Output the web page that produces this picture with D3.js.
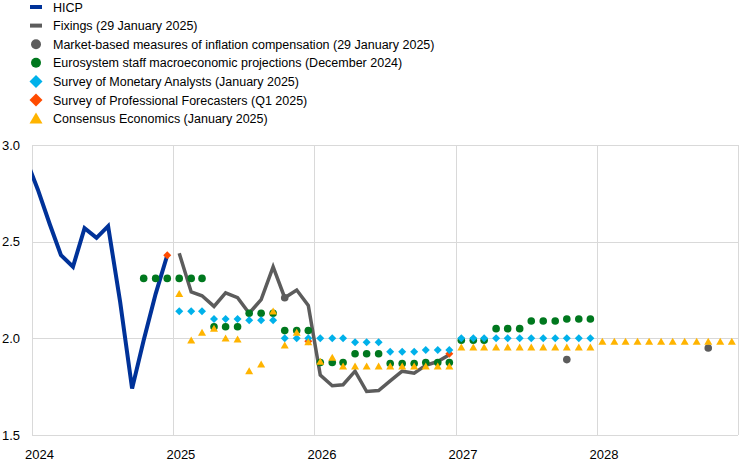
<!DOCTYPE html>
<html>
<head>
<meta charset="utf-8">
<script src="https://cdn.jsdelivr.net/npm/d3@7"></script>
<style>
  html, body { margin: 0; padding: 0; background: #fff; }
  svg { display: block; font-family: "Liberation Sans", Arial, sans-serif; }
</style>
</head>
<body>
<svg id="chart" width="745" height="462"></svg>
<script>
// ---------- DATA ----------
const yTicks = [1.5, 2.0, 2.5, 3.0];
const yearTicks = ["2024", "2025", "2026", "2027", "2028"];

const hicpMonths = ["2023-12","2024-01","2024-02","2024-03","2024-04","2024-05","2024-06","2024-07","2024-08","2024-09","2024-10","2024-11","2024-12"];
const hicpValues = [2.93, 2.77, 2.59, 2.43, 2.37, 2.57, 2.52, 2.58, 2.19, 1.74, 1.99, 2.23, 2.43];

const fixingMonths = ["2025-01","2025-02","2025-03","2025-04","2025-05","2025-06","2025-07","2025-08","2025-09","2025-10","2025-11","2025-12",
                      "2026-01","2026-02","2026-03","2026-04","2026-05","2026-06","2026-07","2026-08","2026-09","2026-10","2026-11","2026-12"];
const fixingValues = [2.44, 2.24, 2.22, 2.165, 2.235, 2.21, 2.13, 2.20, 2.37, 2.21, 2.25, 2.17,
                      1.81, 1.755, 1.76, 1.83, 1.725, 1.73, 1.78, 1.83, 1.82, 1.86, 1.88, 1.915];

const marketMonths = ["2025-10", "2027-10", "2028-10"];
const marketValues = [2.21, 1.89, 1.95];

const esMonths = ["2024-10","2024-11","2024-12",
  "2025-01","2025-02","2025-03","2025-04","2025-05","2025-06","2025-07","2025-08","2025-09","2025-10","2025-11","2025-12",
  "2026-01","2026-02","2026-03","2026-04","2026-05","2026-06","2026-07","2026-08","2026-09","2026-10","2026-11","2026-12",
  "2027-01","2027-02","2027-03","2027-04","2027-05","2027-06","2027-07","2027-08","2027-09","2027-10","2027-11","2027-12"];
const esValues = [2.31, 2.31, 2.31,
  2.31, 2.31, 2.31, 2.06, 2.06, 2.06, 2.13, 2.13, 2.13, 2.04, 2.04, 2.04,
  1.875, 1.875, 1.875, 1.92, 1.92, 1.92, 1.87, 1.87, 1.87, 1.875, 1.875, 1.875,
  1.99, 1.99, 1.99, 2.05, 2.05, 2.05, 2.09, 2.09, 2.09, 2.10, 2.10, 2.10];

const smaMonths = ["2025-01","2025-02","2025-03","2025-04","2025-05","2025-06","2025-07","2025-08","2025-09","2025-10","2025-11","2025-12",
  "2026-01","2026-02","2026-03","2026-04","2026-05","2026-06","2026-07","2026-08","2026-09","2026-10","2026-11","2026-12",
  "2027-01","2027-02","2027-03","2027-04","2027-05","2027-06","2027-07","2027-08","2027-09","2027-10","2027-11","2027-12"];
const smaValues = [2.14, 2.14, 2.14, 2.10, 2.10, 2.10, 2.093, 2.093, 2.093, 2.00, 2.00, 2.00,
  2.00, 2.00, 2.00, 1.98, 1.98, 1.98, 1.93, 1.93, 1.93, 1.94, 1.94, 1.94,
  2.00, 2.00, 2.00, 2.00, 2.00, 2.00, 2.00, 2.00, 2.00, 2.00, 2.00, 2.00];

const spfMonths = ["2024-12", "2025-12", "2026-12"];
const spfValues = [2.43, 1.985, 1.92];

const ceMonths = ["2025-01","2025-02","2025-03","2025-04","2025-05","2025-06","2025-07","2025-08","2025-09","2025-10","2025-11","2025-12",
  "2026-01","2026-02","2026-03","2026-04","2026-05","2026-06","2026-07","2026-08","2026-09","2026-10","2026-11","2026-12",
  "2027-01","2027-02","2027-03","2027-04","2027-05","2027-06","2027-07","2027-08","2027-09","2027-10","2027-11","2027-12",
  "2028-01","2028-02","2028-03","2028-04","2028-05","2028-06","2028-07","2028-08","2028-09","2028-10","2028-11","2028-12"];
const ceValues = [2.23, 1.99, 2.03, 2.05, 2.00, 1.995, 1.83, 1.866, 2.14, 1.964, 2.03, 1.98,
  1.88, 1.90, 1.855, 1.855, 1.855, 1.855, 1.855, 1.855, 1.855, 1.855, 1.855, 1.855,
  1.953, 1.953, 1.953, 1.953, 1.953, 1.953, 1.953, 1.953, 1.953, 1.953, 1.953, 1.953,
  1.983, 1.983, 1.983, 1.983, 1.983, 1.983, 1.983, 1.983, 1.983, 1.983, 1.983, 1.983];

const legendLabels = [
  "HICP",
  "Fixings (29 January 2025)",
  "Market-based measures of inflation compensation (29 January 2025)",
  "Eurosystem staff macroeconomic projections (December 2024)",
  "Survey of Monetary Analysts (January 2025)",
  "Survey of Professional Forecasters (Q1 2025)",
  "Consensus Economics (January 2025)"
];

// ---------- STYLE ----------
const C = {
  hicp: "#003299", fix: "#5c5c5c", market: "#5c5c5c", es: "#00781e",
  sma: "#00b1ea", spf: "#ff4b00", ce: "#ffb400", grid: "#d9d9d9", text: "#000"
};

const svg = d3.select("#chart");
const plot = { left: 32, right: 738, top: 145, bottom: 435 };

const midMonth = s => { const [y, m] = s.split("-").map(Number); return new Date(y, m - 1, 16); };
const zip = (ms, vs) => ms.map((m, i) => ({ d: midMonth(m), v: vs[i] }));

const x = d3.scaleTime().domain([new Date(2024, 0, 1), new Date(2029, 0, 1)]).range([plot.left, plot.right]);
const y = d3.scaleLinear().domain([1.5, 3.0]).range([plot.bottom, plot.top]);

// clip
svg.append("defs").append("clipPath").attr("id", "clip")
  .append("rect").attr("x", plot.left).attr("y", plot.top - 10)
  .attr("width", plot.right - plot.left).attr("height", plot.bottom - plot.top + 20);

// gridlines
const g = svg.append("g");
g.selectAll("line.h").data(yTicks).join("line")
  .attr("x1", plot.left).attr("x2", plot.right)
  .attr("y1", d => Math.round(y(d)) + 0.5).attr("y2", d => Math.round(y(d)) + 0.5)
  .attr("stroke", C.grid).attr("stroke-width", 1);
const yearDates = d3.range(2024, 2030).map(yr => new Date(yr, 0, 1));
g.selectAll("line.v").data(yearDates).join("line")
  .attr("x1", d => Math.round(x(d)) + 0.5).attr("x2", d => Math.round(x(d)) + 0.5)
  .attr("y1", plot.top).attr("y2", plot.bottom)
  .attr("stroke", C.grid).attr("stroke-width", 1);

// axis labels
svg.append("g").selectAll("text").data(yTicks).join("text")
  .attr("x", 20).attr("y", d => y(d)).attr("dy", "0.36em")
  .attr("text-anchor", "end").attr("font-size", 13).attr("fill", C.text)
  .text(d => d.toFixed(1));
svg.append("g").selectAll("text").data(yearTicks).join("text")
  .attr("x", d => x(new Date(+d, 0, 1)) - 7).attr("y", 459)
  .attr("text-anchor", "start").attr("font-size", 13).attr("fill", C.text)
  .text(d => d);

const body = svg.append("g").attr("clip-path", "url(#clip)");
const line = d3.line().x(d => x(d.d)).y(d => y(d.v));

body.append("path").datum(zip(hicpMonths, hicpValues))
  .attr("d", line).attr("fill", "none").attr("stroke", C.hicp)
  .attr("stroke-width", 4).attr("stroke-linejoin", "miter");
body.append("path").datum(zip(fixingMonths, fixingValues))
  .attr("d", line).attr("fill", "none").attr("stroke", C.fix)
  .attr("stroke-width", 3.5).attr("stroke-linejoin", "miter");

const circ = d3.symbol().type(d3.symbolCircle);
const diam = d3.symbol().type(d3.symbolSquare);
const tri = d3.symbol().type(d3.symbolTriangle);

function dots(data, color, r) {
  body.append("g").selectAll("circle").data(data).join("circle")
    .attr("cx", d => x(d.d)).attr("cy", d => y(d.v)).attr("r", r).attr("fill", color);
}
function diamonds(data, color, half) {
  body.append("g").selectAll("path").data(data).join("path")
    .attr("d", d => { const cx = x(d.d), cy = y(d.v);
      return `M${cx},${cy - half}L${cx + half},${cy}L${cx},${cy + half}L${cx - half},${cy}Z`; })
    .attr("fill", color);
}
function triangles(data, color, w, h) {
  body.append("g").selectAll("path").data(data).join("path")
    .attr("d", d => { const cx = x(d.d), cy = y(d.v);
      return `M${cx},${cy - h * 0.55}L${cx + w / 2},${cy + h * 0.45}L${cx - w / 2},${cy + h * 0.45}Z`; })
    .attr("fill", color);
}

dots(zip(marketMonths, marketValues), C.market, 3.8);
dots(zip(esMonths, esValues), C.es, 3.8);
diamonds(zip(spfMonths, spfValues), C.spf, 4);
diamonds(zip(smaMonths, smaValues), C.sma, 4);
triangles(zip(ceMonths, ceValues), C.ce, 8, 7);

// legend
const leg = svg.append("g");
const ly0 = 7, lstep = 18.6, lx = 36, tx = 53;
legendLabels.forEach((lab, i) => {
  const cy = ly0 + i * lstep;
  if (i === 0 || i === 1) {
    leg.append("rect").attr("x", lx - 6).attr("y", cy - 2).attr("width", 12).attr("height", 4)
      .attr("fill", i === 0 ? C.hicp : C.fix);
  } else if (i === 2 || i === 3) {
    leg.append("circle").attr("cx", lx).attr("cy", cy).attr("r", 5).attr("fill", i === 2 ? C.market : C.es);
  } else if (i === 4 || i === 5) {
    const h = 6.5;
    leg.append("path").attr("d", `M${lx},${cy - h}L${lx + h},${cy}L${lx},${cy + h}L${lx - h},${cy}Z`)
      .attr("fill", i === 4 ? C.sma : C.spf);
  } else {
    leg.append("path").attr("d", `M${lx},${cy - 6}L${lx + 6.5},${cy + 5}L${lx - 6.5},${cy + 5}Z`).attr("fill", C.ce);
  }
  leg.append("text").attr("x", tx).attr("y", cy).attr("dy", "0.36em")
    .attr("font-size", 12.5).attr("fill", C.text).text(lab);
});
</script>
</body>
</html>
